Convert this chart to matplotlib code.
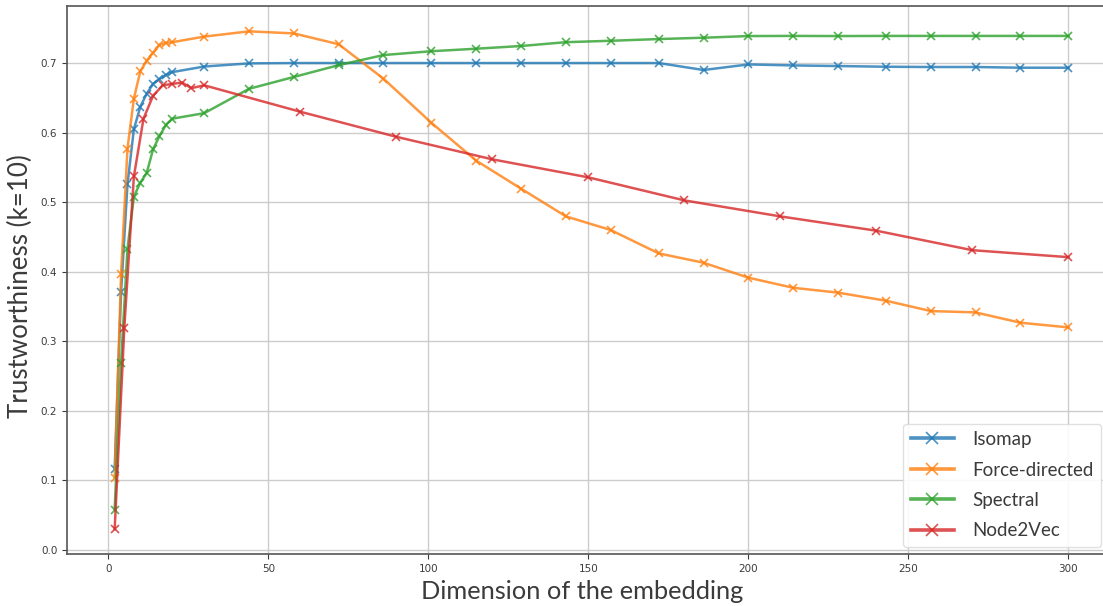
import numpy as np
import matplotlib
matplotlib.use("Agg")
import matplotlib.pyplot as plt

# embedding dimensions
dims = [2, 4, 6, 8, 10, 12, 14, 16, 18, 20,
        30, 44, 58, 72, 86, 101, 115, 129, 143, 157,
        172, 186, 200, 214, 228, 243, 257, 271, 285, 300]
dims_n2v = [2, 5, 8, 11, 14, 17, 20, 23, 26, 30,
            60, 90, 120, 150, 180, 210, 240, 270, 300]

isomap = [0.117, 0.371, 0.526, 0.605, 0.637, 0.656, 0.670, 0.677, 0.683, 0.687,
          0.695, 0.6995, 0.700, 0.700, 0.700, 0.700, 0.700, 0.700, 0.700, 0.700,
          0.700, 0.690, 0.698, 0.6966, 0.6957, 0.6947, 0.6943, 0.6943, 0.6933, 0.6933]
force = [0.104, 0.397, 0.577, 0.649, 0.688, 0.7035, 0.715, 0.726, 0.729, 0.730,
         0.738, 0.7456, 0.7426, 0.727, 0.6775, 0.614, 0.5596, 0.5194, 0.4796, 0.460,
         0.4264, 0.413, 0.3915, 0.377, 0.370, 0.3584, 0.3435, 0.3416, 0.3268, 0.320]
spectral = [0.058, 0.269, 0.433, 0.508, 0.528, 0.542, 0.576, 0.595, 0.611, 0.620,
            0.628, 0.663, 0.680, 0.697, 0.7115, 0.717, 0.7206, 0.7245, 0.730, 0.732,
            0.7345, 0.7364, 0.7388, 0.739, 0.7388, 0.739, 0.739, 0.739, 0.739, 0.739]
node2vec = [0.030, 0.319, 0.537, 0.620, 0.653, 0.668, 0.670, 0.672, 0.664, 0.668,
            0.630, 0.594, 0.5616, 0.5357, 0.5026, 0.4796, 0.459, 0.431, 0.421]

txt = "#3b3b3b"
plt.rcParams["font.family"] = ["DejaVu Sans"]

fig = plt.figure(figsize=(11.03, 6.06), dpi=100)
ax = fig.add_axes([67/1103, (606-554)/606, (1116-67)/1103, (554-6)/606])

kw = dict(marker="x", markersize=5.5, linewidth=1.8, alpha=0.8, markeredgewidth=1.2)
ax.plot(dims, isomap, color="#1f77b4", label="Isomap", **kw)
ax.plot(dims, force, color="#ff7f0e", label="Force-directed", **kw)
ax.plot(dims, spectral, color="#2ca02c", label="Spectral", **kw)
ax.plot(dims_n2v, node2vec, color="#d62728", label="Node2Vec", **kw)

ax.set_xlim(-12.9, 314.9)
ax.set_ylim(-0.0057, 0.782)
ax.set_xticks([0, 50, 100, 150, 200, 250, 300])
ax.set_yticks([0.0, 0.1, 0.2, 0.3, 0.4, 0.5, 0.6, 0.7])
ax.grid(True, color="#cccccc", linewidth=1.0)
ax.set_axisbelow(True)
ax.tick_params(labelsize=7.5, colors=txt, length=3.5, width=0.8)
for s in ax.spines.values():
    s.set_color("#555555")
    s.set_linewidth(1.2)

ax.set_xlabel("Dimension of the embedding", family="Lato", fontsize=18.3, color=txt)
ax.set_ylabel("Trustworthiness (k=10)", family="Lato", fontsize=18.6, color=txt)
ax.xaxis.set_label_coords(0.4914, -0.047)
ax.yaxis.set_label_coords(-0.032, 0.489)

leg = ax.legend(loc="lower left", bbox_to_anchor=(903/1103, (606-547)/606),
                bbox_transform=fig.transFigure, borderaxespad=0,
                prop={"family": "Lato", "size": 13.5}, handlelength=2.3,
                handletextpad=1.0, markerscale=1.5, labelspacing=0.72,
                framealpha=0.9, edgecolor="#dddddd", fancybox=True)
for t in leg.get_texts():
    t.set_color(txt)
for h in leg.legend_handles:
    h.set_linewidth(2.6)

fig.savefig("out.png", dpi=100)
